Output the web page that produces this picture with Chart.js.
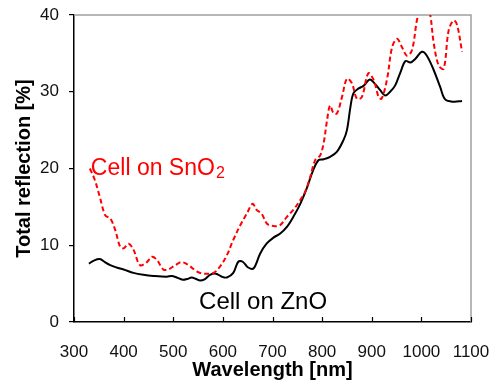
<!DOCTYPE html>
<html>
<head>
<meta charset="utf-8">
<script src="https://cdn.jsdelivr.net/npm/chart.js@4/dist/chart.umd.min.js"></script>
<style>
  html, body { margin: 0; padding: 0; background: #fff; }
  #wrap { width: 493px; height: 383px; }
</style>
</head>
<body>
<div id="wrap"><canvas id="myChart"></canvas></div>
<script>
// Cell on ZnO (black solid)
const znoWl = [330, 340, 352, 362, 373, 386, 400, 420, 440, 460, 487, 497, 507, 519, 528, 537, 546, 554, 564, 574, 586, 598, 608, 621, 631, 640, 651, 662, 675, 688, 702, 715, 729, 742, 756, 769, 782, 793, 803, 816, 830, 843, 850, 857, 863, 873, 884, 896, 907, 917, 927, 937, 947, 957, 968, 978, 988, 1001, 1011, 1025, 1038, 1048, 1065, 1082];
const znoR  = [7.6, 8.0, 8.2, 7.8, 7.4, 7.1, 6.85, 6.4, 6.15, 6.0, 5.9, 6.0, 5.8, 5.5, 5.6, 5.8, 5.6, 5.4, 5.6, 6.15, 6.3, 5.9, 5.8, 6.4, 7.85, 7.85, 7.1, 7.0, 8.9, 10.2, 11.0, 11.5, 12.4, 13.7, 15.4, 17.4, 19.8, 21.1, 21.2, 21.5, 22.2, 23.7, 25.0, 28.0, 29.8, 30.4, 30.8, 31.6, 31.0, 30.2, 29.5, 30.0, 30.8, 32.4, 34.0, 33.8, 34.3, 35.2, 34.7, 32.8, 30.6, 29.0, 28.7, 28.8];

// Cell on SnO2 (red dashed)
const sno2Wl = [332, 342, 352, 363, 373, 383, 393, 400, 410, 420, 433, 447, 457, 467, 480, 490, 504, 517, 531, 547, 561, 581, 594, 608, 621, 635, 648, 660, 668, 678, 689, 702, 715, 729, 742, 756, 766, 776, 786, 796, 803, 810, 816, 823, 830, 840, 850, 860, 870, 880, 893, 904, 914, 920, 931, 941, 951, 961, 971, 981, 991, 998, 1006, 1013, 1018, 1025, 1035, 1045, 1055, 1065, 1072, 1082];
const sno2R  = [20.0, 18.5, 16.3, 13.9, 13.5, 12.0, 9.8, 9.6, 10.2, 9.4, 7.4, 7.8, 8.5, 8.1, 6.85, 6.85, 7.4, 7.8, 7.4, 6.6, 6.3, 6.4, 7.2, 8.7, 10.7, 12.6, 14.1, 15.4, 14.6, 14.1, 12.8, 12.5, 12.6, 13.7, 14.6, 15.9, 17.0, 18.9, 21.1, 21.7, 23.3, 26.3, 28.2, 27.2, 27.2, 29.3, 31.7, 31.1, 29.1, 29.3, 32.4, 31.5, 29.3, 29.1, 31.7, 35.8, 36.9, 35.8, 34.7, 35.4, 39.3, 41.0, 41.5, 41.0, 40.0, 36.3, 33.4, 33.0, 38.0, 39.3, 38.7, 35.2];

const xTicks = [300, 400, 500, 600, 700, 800, 900, 1000, 1100];
const yTicks = [0, 10, 20, 30, 40];

const toPoints = (xs, ys) => xs.map((x, i) => ({ x: x, y: ys[i] }));

// gray frame on top/right, inward ticks on x axis, curve labels
const extras = {
  id: 'extras',
  beforeDatasetsDraw(chart) {
    const { ctx, chartArea: a } = chart;
    ctx.save();
    ctx.strokeStyle = '#a0a0a0';
    ctx.lineWidth = 1.5;
    ctx.beginPath();
    ctx.moveTo(a.left, a.top);
    ctx.lineTo(a.right, a.top);
    ctx.lineTo(a.right, a.bottom);
    ctx.stroke();
    ctx.restore();
  },
  afterDatasetsDraw(chart) {
    const { ctx, chartArea: a, scales } = chart;
    ctx.save();
    ctx.strokeStyle = '#000';
    ctx.lineWidth = 1.2;
    xTicks.forEach(v => {
      const px = Math.round(scales.x.getPixelForValue(v)) + 0.5;
      ctx.beginPath();
      ctx.moveTo(px, a.bottom);
      ctx.lineTo(px, a.bottom - 5);
      ctx.stroke();
    });

    ctx.textBaseline = 'middle';
    ctx.textAlign = 'left';
    // Cell on SnO2
    let x = scales.x.getPixelForValue(334);
    let y = scales.y.getPixelForValue(20);
    ctx.fillStyle = '#ff0000';
    ctx.font = '23px "Liberation Sans", Arial, sans-serif';
    const main = 'Cell on SnO';
    ctx.fillText(main, x, y);
    const w = ctx.measureText(main).width;
    ctx.font = '16px "Liberation Sans", Arial, sans-serif';
    ctx.fillText('2', x + w + 1, y + 5);
    // Cell on ZnO
    x = scales.x.getPixelForValue(552);
    y = scales.y.getPixelForValue(2.5);
    ctx.fillStyle = '#000';
    ctx.font = '24px "Liberation Sans", Arial, sans-serif';
    ctx.fillText('Cell on ZnO', x, y);
    ctx.restore();
  }
};

new Chart(document.getElementById('myChart'), {
  type: 'line',
  data: {
    datasets: [
      {
        label: 'Cell on SnO2',
        data: toPoints(sno2Wl, sno2R),
        borderColor: '#ff0000',
        borderWidth: 2,
        borderDash: [5, 3],
        pointRadius: 0,
        tension: 0.35,
        fill: false
      },
      {
        label: 'Cell on ZnO',
        data: toPoints(znoWl, znoR),
        borderColor: '#000000',
        borderWidth: 2,
        pointRadius: 0,
        tension: 0.35,
        fill: false
      }
    ]
  },
  options: {
    responsive: true,
    maintainAspectRatio: false,
    animation: false,
    layout: { padding: { top: 15, right: 22, left: 0, bottom: 0 } },
    plugins: {
      legend: { display: false },
      tooltip: { enabled: false }
    },
    scales: {
      x: {
        type: 'linear',
        min: 300,
        max: 1100,
        afterBuildTicks: (s) => { s.ticks = xTicks.map(v => ({ value: v })); },
        afterFit: (s) => { s.height = 61; s.paddingLeft = 0; s.paddingRight = 0; },
        grid: { display: false, drawOnChartArea: false },
        border: { display: true, color: '#000', width: 1.5 },
        ticks: {
          padding: 12,
          maxRotation: 0,
          color: '#111',
          callback: (v) => String(v),
          font: { family: '"Liberation Sans", Arial, sans-serif', size: 17 }
        },
        title: {
          display: true,
          text: 'Wavelength [nm]',
          color: '#000',
          padding: { top: 0, bottom: 1 },
          font: { family: '"Liberation Sans", Arial, sans-serif', size: 20, weight: 'bold' }
        }
      },
      y: {
        min: 0,
        max: 40,
        afterBuildTicks: (s) => { s.ticks = yTicks.map(v => ({ value: v })); },
        afterFit: (s) => { s.width = 74; s.paddingTop = 0; s.paddingBottom = 0; },
        grid: { drawOnChartArea: false, drawTicks: true, tickLength: 5, color: '#000', lineWidth: 1.2 },
        border: { display: true, color: '#000', width: 1.5 },
        ticks: {
          padding: 10,
          color: '#111',
          font: { family: '"Liberation Sans", Arial, sans-serif', size: 17 }
        },
        title: {
          display: true,
          text: 'Total reflection [%]',
          color: '#000',
          padding: { top: 12, bottom: 0 },
          font: { family: '"Liberation Sans", Arial, sans-serif', size: 20, weight: 'bold' }
        }
      }
    }
  },
  plugins: [extras]
});
</script>
</body>
</html>
